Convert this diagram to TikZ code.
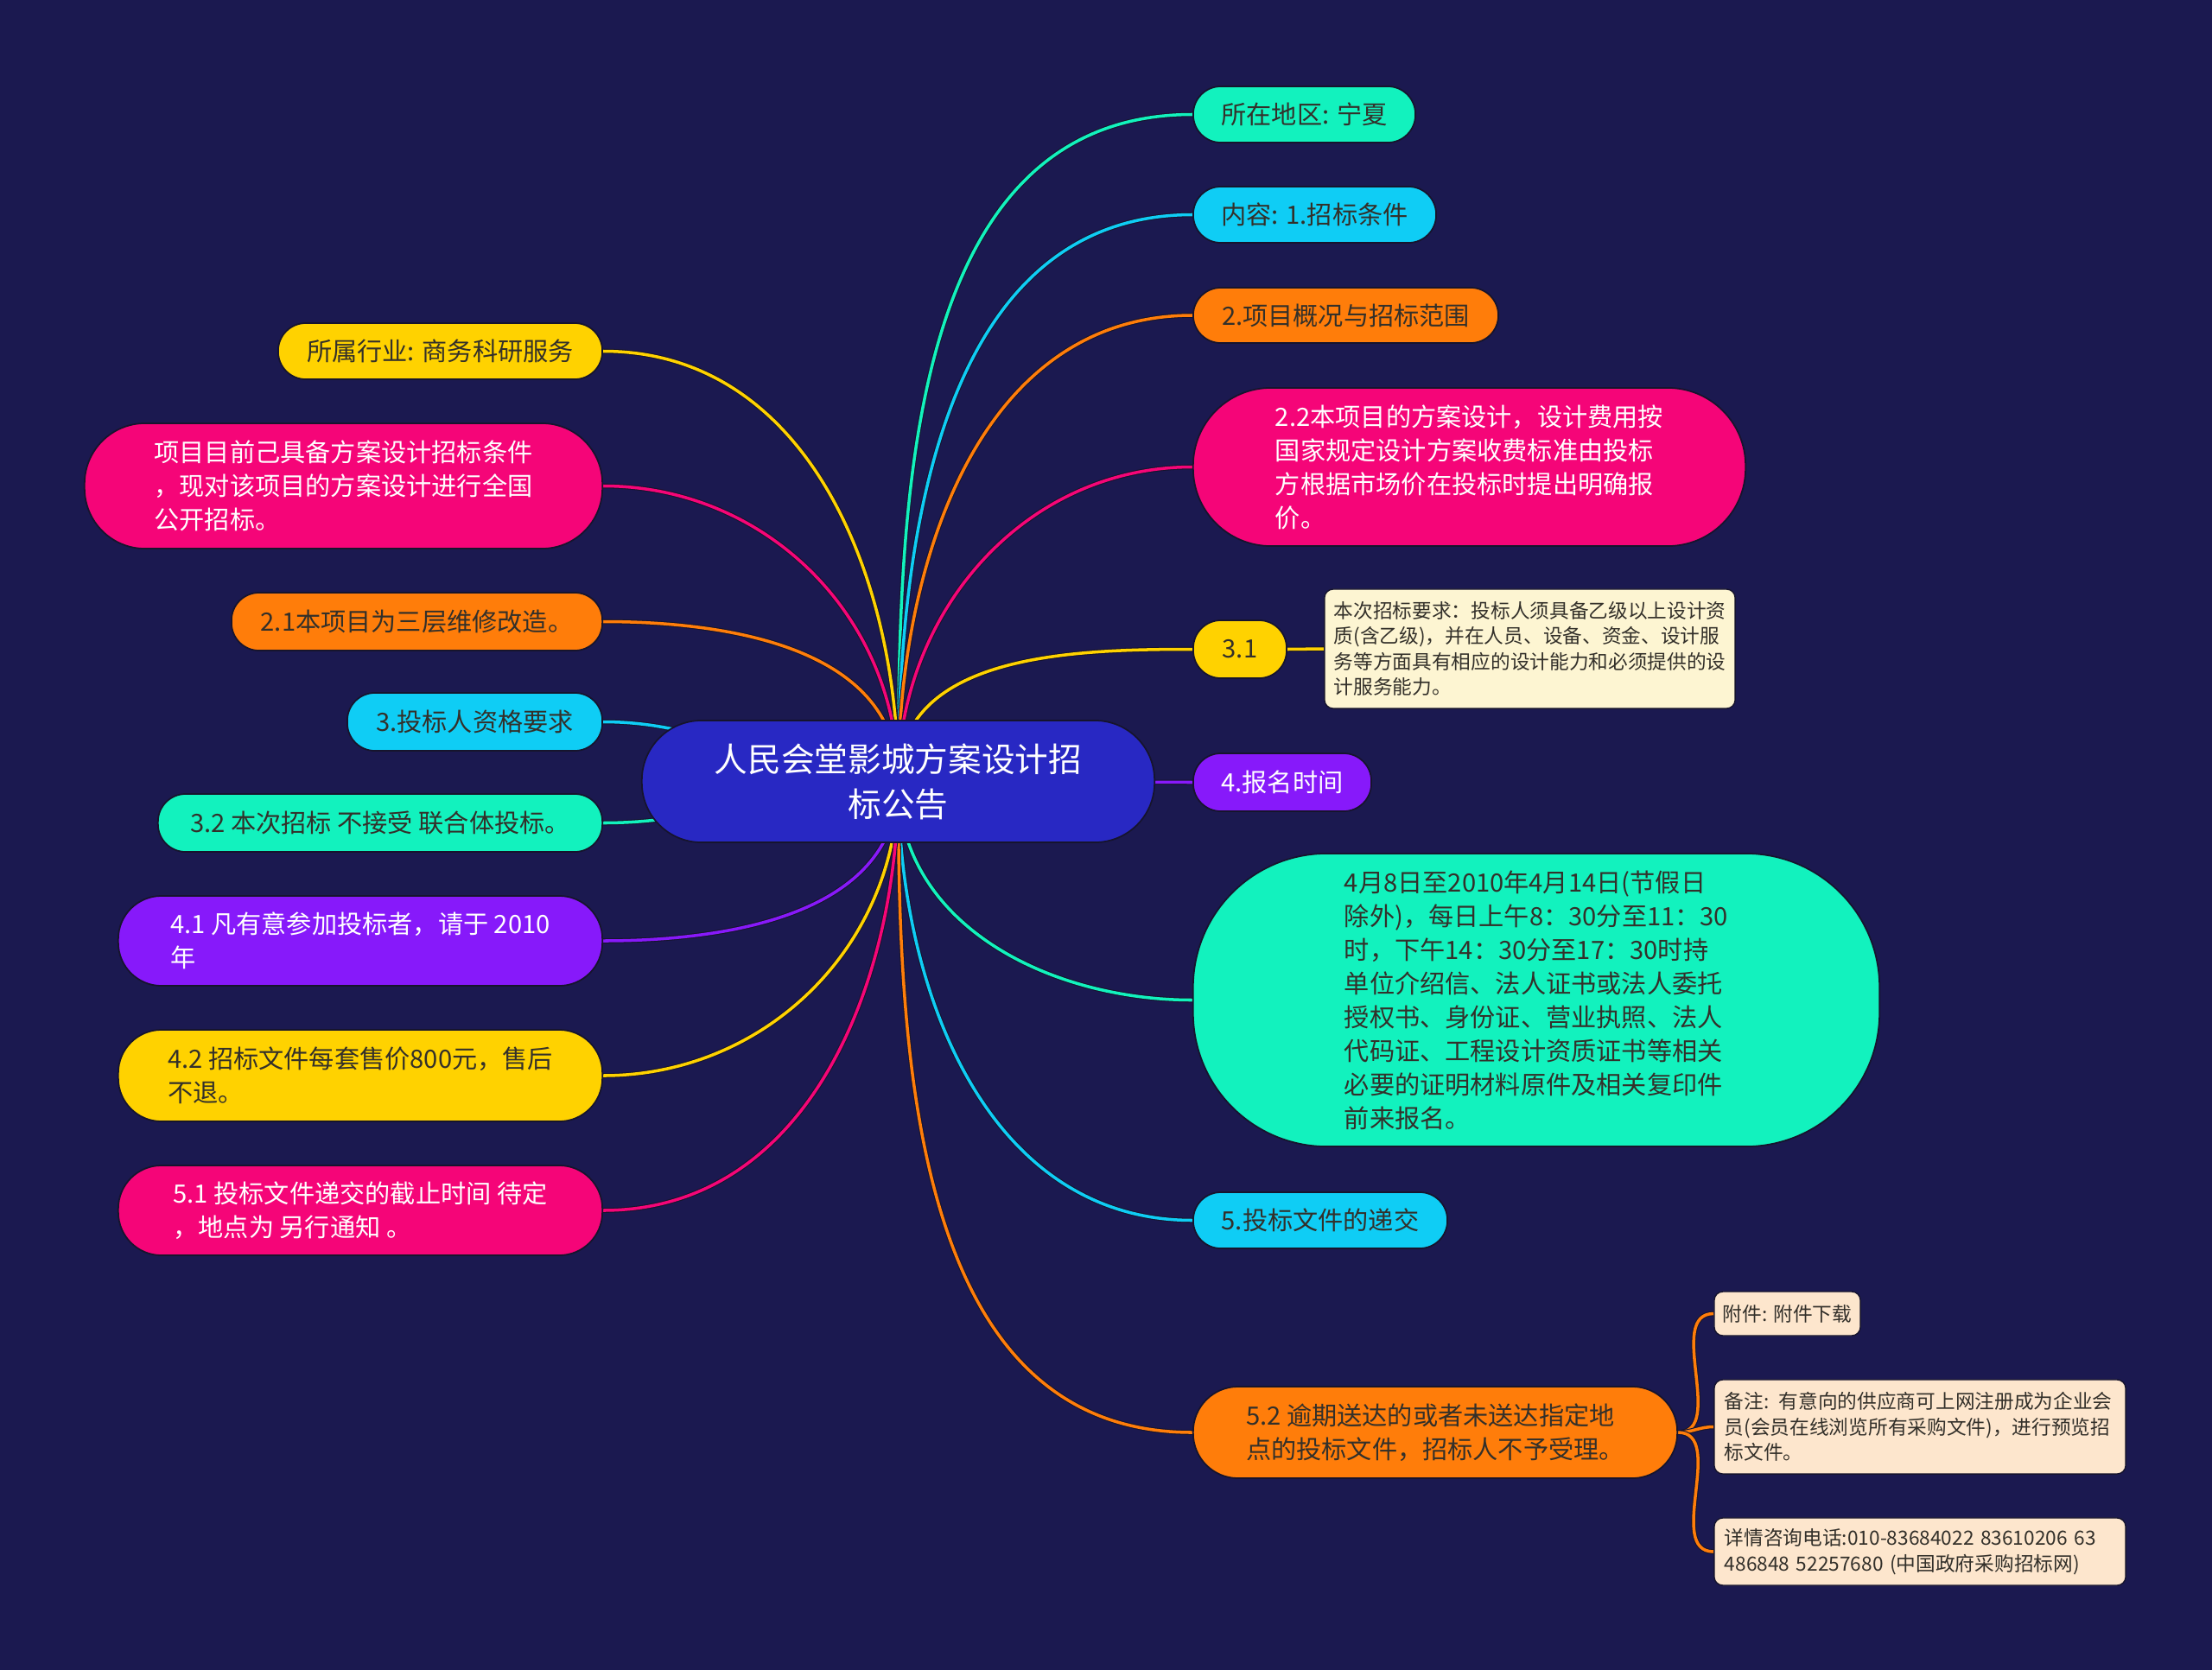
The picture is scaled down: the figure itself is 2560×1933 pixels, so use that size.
\documentclass[tikz,border=0pt]{standalone}
\usepackage{fontspec}
\setmainfont{Noto Sans CJK SC}
\definecolor{bgcol}{RGB}{27,25,80}
\definecolor{edgecol}{RGB}{22,20,45}
\definecolor{inkcol}{RGB}{51,48,42}
\definecolor{cblue}{RGB}{40,40,195}
\definecolor{cteal}{RGB}{18,242,190}
\definecolor{ccyan}{RGB}{15,205,245}
\definecolor{corange}{RGB}{255,125,10}
\definecolor{cpink}{RGB}{245,5,120}
\definecolor{cyellow}{RGB}{255,210,0}
\definecolor{cpurple}{RGB}{135,25,250}
\definecolor{ccream}{RGB}{253,245,210}
\definecolor{cpeach}{RGB}{253,230,205}
\pgfdeclarelayer{back}
\pgfdeclarelayer{links}
\pgfsetlayers{back,links,main}
\tikzset{
  topic/.style={draw=edgecol, line width=0.5pt, rounded corners=0.32cm, inner sep=0pt, align=left, text=inkcol, font=\fontsize{8.3}{11.1}\selectfont},
  leaf/.style={draw=edgecol, line width=0.4pt, rounded corners=0.1cm, inner sep=0pt, align=left, text=inkcol, font=\fontsize{6.45}{8.4}\selectfont},
  link/.style={line width=1pt, preaction={draw=edgecol, line width=1.6pt}},
}
\begin{document}
\begin{tikzpicture}[x=0.01cm,y=-0.01cm]
\useasboundingbox (0,0) rectangle (2560,1933);
\begin{pgfonlayer}{back}
\fill[bgcol] (0,0) rectangle (2560,1933);
\end{pgfonlayer}
% centre
\node[topic, fill=cblue, text=white, align=center, rounded corners=0.69cm, minimum width=5.93cm, minimum height=1.41cm, font=\fontsize{11}{14.8}\selectfont] (ctr) at (1039.5,904.5) {人民会堂影城方案设计招\\标公告};
% right side
\node[topic, fill=cteal, minimum width=2.57cm, minimum height=0.65cm] (loc) at (1509.5,132.5) {所在地区: 宁夏};
\node[topic, fill=ccyan, minimum width=2.81cm, minimum height=0.65cm] (content) at (1521.5,248.5) {内容: 1.招标条件};
\node[topic, fill=corange, minimum width=3.53cm, minimum height=0.64cm] (scope) at (1557.5,365) {2.项目概况与招标范围};
\node[topic, fill=cpink, text=white, rounded corners=0.9cm, minimum width=6.39cm, minimum height=1.83cm] (fee) at (1700.5,540.5) {2.2本项目的方案设计，设计费用按\\国家规定设计方案收费标准由投标\\方根据市场价在投标时提出明确报\\价。};
\node[topic, fill=cyellow, minimum width=1.08cm, minimum height=0.67cm] (req) at (1435,751.5) {3.1};
\node[leaf, fill=ccream, text width=4.53cm, minimum width=4.75cm, minimum height=1.38cm] (reqnote) at (1770.5,751) {本次招标要求：投标人须具备乙级以上设计资\\质(含乙级)，并在人员、设备、资金、设计服\\务等方面具有相应的设计能力和必须提供的设\\计服务能力。};
\node[topic, fill=cpurple, text=white, minimum width=2.06cm, minimum height=0.67cm] (sign) at (1484,905.5) {4.报名时间};
\node[topic, fill=cteal, rounded corners=1.55cm, minimum width=7.94cm, minimum height=3.39cm] (hours) at (1778,1157.5) {4月8日至2010年4月14日(节假日\\除外)，每日上午8：30分至11：30\\时，下午14：30分至17：30时持\\单位介绍信、法人证书或法人委托\\授权书、身份证、营业执照、法人\\代码证、工程设计资质证书等相关\\必要的证明材料原件及相关复印件\\前来报名。};
\node[topic, fill=ccyan, minimum width=2.94cm, minimum height=0.65cm] (submit) at (1528,1412.5) {5.投标文件的递交};
\node[topic, fill=corange, rounded corners=0.52cm, minimum width=5.6cm, minimum height=1.06cm] (late) at (1661,1658) {5.2 逾期送达的或者未送达指定地\\点的投标文件，招标人不予受理。};
\node[leaf, fill=cpeach, minimum width=1.69cm, minimum height=0.51cm] (attach) at (2068.5,1520.5) {附件: 附件下载};
\node[leaf, fill=cpeach, text width=4.52cm, minimum width=4.76cm, minimum height=1.09cm] (remark) at (2222,1651.5) {备注: 有意向的供应商可上网注册成为企业会\\员(会员在线浏览所有采购文件)，进行预览招\\标文件。};
\node[leaf, fill=cpeach, text width=4.52cm, minimum width=4.76cm, minimum height=0.78cm] (phone) at (2222,1796) {详情咨询电话:010-83684022 83610206 63\\486848 52257680 (中国政府采购招标网)};
% left side
\node[topic, fill=cyellow, minimum width=3.75cm, minimum height=0.65cm] (trade) at (509.5,406.5) {所属行业: 商务科研服务};
\node[topic, fill=cpink, text=white, rounded corners=0.7cm, minimum width=5.99cm, minimum height=1.45cm] (ready) at (397.5,562.5) {项目目前己具备方案设计招标条件\\，现对该项目的方案设计进行全国\\公开招标。};
\node[topic, fill=corange, minimum width=4.29cm, minimum height=0.67cm] (repair) at (482.5,719.5) {2.1本项目为三层维修改造。};
\node[topic, fill=ccyan, minimum width=2.95cm, minimum height=0.67cm] (qual) at (549.5,835.5) {3.投标人资格要求};
\node[topic, fill=cteal, minimum width=5.14cm, minimum height=0.67cm] (union) at (440,952.5) {3.2 本次招标 不接受 联合体投标。};
\node[topic, fill=cpurple, text=white, rounded corners=0.5cm, minimum width=5.6cm, minimum height=1.04cm] (join) at (417,1089) {4.1 凡有意参加投标者，请于 2010\\年};
\node[topic, fill=cyellow, rounded corners=0.5cm, minimum width=5.6cm, minimum height=1.06cm] (price) at (417,1245) {4.2 招标文件每套售价800元，售后\\不退。};
\node[topic, fill=cpink, text=white, rounded corners=0.5cm, minimum width=5.6cm, minimum height=1.04cm] (deadline) at (417,1401) {5.1 投标文件递交的截止时间 待定\\，地点为 另行通知 。};
% connectors
\begin{pgfonlayer}{links}
\draw[link, cteal] (ctr.center) to[out=90, in=180] (loc.west);
\draw[link, ccyan] (ctr.center) to[out=90, in=180] (content.west);
\draw[link, corange] (ctr.center) to[out=90, in=180] (scope.west);
\draw[link, cpink] (ctr.center) to[out=90, in=180] (fee.west);
\draw[link, cyellow] (ctr.center) to[out=90, in=180] (req.west);
\draw[link, cyellow] (req.east) -- (reqnote.west);
\draw[link, cpurple] (ctr.center) -- (sign.west);
\draw[link, cteal] (ctr.center) to[out=-90, in=180] (hours.west);
\draw[link, ccyan] (ctr.center) to[out=-90, in=180] (submit.west);
\draw[link, corange] (ctr.center) to[out=-90, in=180] (late.west);
\draw[link, corange] (late.east) to[out=0, in=180] (attach.west);
\draw[link, corange] (late.east) to[out=0, in=180] (remark.west);
\draw[link, corange] (late.east) to[out=0, in=180] (phone.west);
\draw[link, cyellow] (ctr.center) to[out=90, in=0] (trade.east);
\draw[link, cpink] (ctr.center) to[out=90, in=0] (ready.east);
\draw[link, corange] (ctr.center) to[out=90, in=0] (repair.east);
\draw[link, ccyan] (ctr.center) to[out=180, in=0] (qual.east);
\draw[link, cteal] (ctr.center) to[out=180, in=0] (union.east);
\draw[link, cpurple] (ctr.center) to[out=-90, in=0] (join.east);
\draw[link, cyellow] (ctr.center) to[out=-90, in=0] (price.east);
\draw[link, cpink] (ctr.center) to[out=-90, in=0] (deadline.east);
\end{pgfonlayer}
\end{tikzpicture}
\end{document}
